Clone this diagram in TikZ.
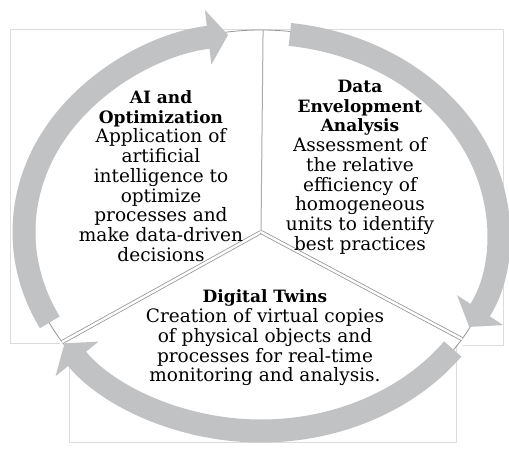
\documentclass[tikz,border=0pt]{standalone}
\usepackage{fontspec}
\setmainfont{DejaVu Serif}
\usepackage{tikz}
\usetikzlibrary{arrows.meta}
\tikzset{
	blurb/.style = {align=center, inner sep=0pt, text centered, font=\fontsize{18.5}{19.75}\selectfont},
	cycle arrow/.style = {line width=23pt, draw=ringgray, -{Triangle[width=54pt, length=20pt]}},
	seam/.style = {draw=seamgray, double=white, double distance=2.4pt, line width=0.8pt},
	frame/.style = {draw=framegray, line width=0.5pt},
}
\definecolor{ringgray}{RGB}{193,194,196}
\definecolor{seamgray}{RGB}{150,150,150}
\definecolor{framegray}{RGB}{220,220,220}
\newcommand{\head}[1]{{\fontsize{17}{19.75}\selectfont\bfseries #1}}

\begin{document}
\begin{tikzpicture}[x=1pt, y=1pt]
	\useasboundingbox (0,0) rectangle (509,448);
	\coordinate (c) at (261,216);

	% panel borders
	\draw[frame] (60,105) -- (10,105) -- (10,419) -- (503,419) -- (503,103) -- (463,103);
	\draw[frame] (69,105) -- (69,6) -- (456,6) -- (456,103);

	% sector outline
	\draw[draw=seamgray, line width=0.8pt] (c) ellipse [x radius=237pt, y radius=202pt];
	\coordinate (top) at ([shift={(89.5:237pt and 202pt)}]c);
	\coordinate (left) at ([shift={(213:237pt and 202pt)}]c);
	\coordinate (right) at ([shift={(-32:237pt and 202pt)}]c);
	\draw[draw=seamgray!80, line width=1pt] (c) -- (top);
	\draw[seam] (c) -- (left);
	\draw[seam] (c) -- (right);

	% the three arrows of the cycle
	\draw[cycle arrow] ([shift={(207:237pt and 199pt)}]c) arc[start angle=207, end angle=98, x radius=237pt, y radius=199pt];
	\draw[cycle arrow] ([shift={(83:237pt and 199pt)}]c) arc[start angle=83, end angle=-28.5, x radius=237pt, y radius=199pt];
	\draw[cycle arrow] ([shift={(-36:237pt and 199pt)}]c) arc[start angle=-36, end angle=-146, x radius=237pt, y radius=199pt];

	\node[blurb] (ai) at (161,272) {\head{AI and}\\\head{Optimization}\\Application of\\artificial\\intelligence to\\optimize\\processes and\\make data-driven\\decisions};
	\node[blurb] (dea) at (360,281) {\head{Data}\\\head{Envelopment}\\\head{Analysis}\\Assessment of\\the relative\\efficiency of\\homogeneous\\units to identify\\best practices};
	\node[blurb] (twin) at (265,110) {\head{Digital Twins}\\Creation of virtual copies\\of physical objects and\\processes for real-time\\monitoring and analysis.};
\end{tikzpicture}
\end{document}
